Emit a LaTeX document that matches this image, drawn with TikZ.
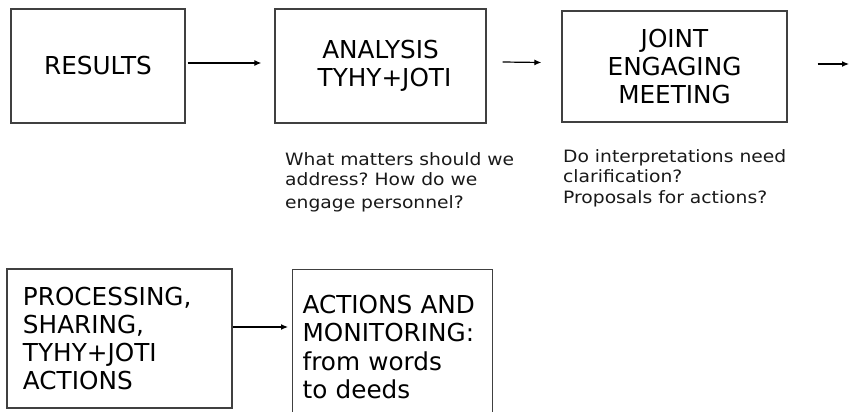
\documentclass[tikz,border=0pt]{standalone}
\usepackage{fontspec}
\setmainfont{DejaVu Sans}
\newfontfamily\notefont[FakeStretch=1.1]{DejaVu Sans}
\usetikzlibrary{arrows.meta}
\frenchspacing

\tikzset{
  stage/.style={draw=black!75, line width=1.3pt, inner sep=0pt, align=center,
    font=\fontsize{24.7}{28.3}\selectfont},
  note/.style={inner sep=0pt, anchor=north west, align=left, text=black!90,
    font=\notefont\fontsize{17}{20.8}\selectfont},
  flow/.style={-{Latex[length=7pt,width=6pt]}, line width=1.2pt},
}

\begin{document}
\begin{tikzpicture}[x=1pt,y=-1pt]

% page frame
\useasboundingbox (0,0) rectangle (849,412);
\clip (0,0) rectangle (849,412);

% top row
\node[stage, minimum width=174pt, minimum height=114pt] (results) at (98,66) {RESULTS};
\node[stage, minimum width=211pt, minimum height=114pt] (analysis) at (380.5,66) {ANALYSIS\\\hspace*{8pt}TYHY+JOTI};
\node[stage, minimum width=225pt, minimum height=111pt] (joint) at (674.5,66.5) {JOINT\\ENGAGING\\MEETING};

% questions under the boxes
\node[note] (askanalysis) at (285,152) {What matters should we\\address? How do we\\[1.5pt]engage personnel?};
\node[note] (askjoint) at (563,149) {Do interpretations need\\clarification?\\Proposals for actions?};

% bottom row
\node[stage, minimum width=225pt, minimum height=139pt, text width=193pt, align=left] (proc) at (119.5,338.5) {PROCESSING,\\SHARING,\\TYHY+JOTI\\ACTIONS};
\node[stage, anchor=north west, minimum width=200pt, minimum height=155pt, text width=180pt, align=left] (act) at (292,269) {ACTIONS AND\\MONITORING:\\from words\\to deeds};

% arrows
\draw[flow] ([xshift=2pt,yshift=3pt]results.east) -- ([xshift=-13pt,yshift=3pt]analysis.west);
\draw[flow] ([xshift=16pt,yshift=4pt]analysis.east) -- ([xshift=-20pt,yshift=4pt]joint.west);
\coordinate (onward) at (849,64);
\draw[flow] ([xshift=30pt,yshift=2.5pt]joint.east) -- (onward);
\coordinate (procout) at ([yshift=11.5pt]proc.east);
\draw[flow, shorten >=4pt] (procout) -- (procout -| act.west);

\end{tikzpicture}
\end{document}
